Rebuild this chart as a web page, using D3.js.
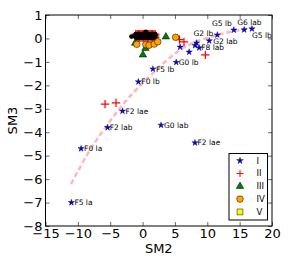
<!DOCTYPE html>
<html>
<head>
<meta charset="utf-8">
<script src="https://cdn.jsdelivr.net/npm/d3@7"></script>
<style>
  body { margin: 0; background: #fff; }
  svg { display: block; font-family: "DejaVu Sans", sans-serif; }
</style>
</head>
<body>
<div id="chart"></div>
<script>
// Class I (stars, labelled)
const starX = [-11.0, -9.5, -5.4, -3.1, -0.65, 1.6, 5.2, 2.85, 8.1, 5.8, 7.2, 8.1, 8.35, 8.75, 10.3, 11.55, 14.1, 15.7, 16.9];
const starY = [-7.0, -4.7, -3.8, -3.1, -1.85, -1.3, -1.02, -3.7, -4.45, -0.37, -0.58, -0.3, -0.19, -0.4, -0.1, 0.15, 0.36, 0.37, 0.41];
const starLabels = ['F5 la', 'F0 la', 'F2 lab', 'F2 lae', 'F0 lb', 'F5 lb', 'G0 lb', 'G0 lab', 'F2 lae',
    '', '', '', '', 'F8 lab', 'G2 lab', 'G2 lb', 'G5 lb', 'G6 lab', 'G5 lb'];

// Class II (plus), outside the dense clump
const plusX = [-5.8, -4.1, 5.7, 6.4, 9.7];
const plusY = [-2.8, -2.75, -0.05, -0.15, -0.7];

// dense clump near the origin (II points overplotted by black field points)
const clumpX = [-1.05, -0.85, -0.65, -0.45, -0.25, -0.05, 0.15, 0.35, 0.55, 0.75, 0.95, 1.15, 1.35, 1.55, 1.75, 1.95];
const clumpY = [0.04, 0.11, 0.18];

// extra black field points outside the clump
const fieldX = [-1.7, 0.5];
const fieldY = [0.08, 0.28];

// Class III (triangles), IV (circles), V (squares)
const triX = [-1.15, 0.45, 0.05, 3.6];
const triY = [-0.2, -0.42, -0.7, 0.07];
const circX = [-0.9, 0.5, 1.0, 1.8, 2.35, 5.1];
const circY = [-0.25, -0.26, -0.29, -0.24, -0.14, 0.05];
const sqX = [];
const sqY = [];

// dashed trend curve
const lineX = [-11.06, -8.12, -5.81, -3.49, -1.17, 1.14, 3.46, 5.78, 8.1, 10.42, 12.74, 15.06, 16.2];
const lineY = [-6.21, -4.76, -3.82, -2.97, -2.24, -1.6, -1.0, -0.49, -0.15, 0.06, 0.23, 0.36, 0.42];

const xTicks = [-15, -10, -5, 0, 5, 10, 15, 20];
const yTicks = [1, 0, -1, -2, -3, -4, -5, -6, -7, -8];
const legendNames = ['I', 'II', 'III', 'IV', 'V'];

// label placement (px) for the annotations
const labelDx = [3, 3, 2, 3, 3, 3, 2.5, 3, 2.5, 0, 0, 0, 0, 2, 4, -4, -2, -7, 0];
const labelDy = [0, 0, 0, 0, 0, 0, 0, 0, 0, 0, 0, 0, 0, 0, 1, -1.6, -6.7, -7, 6.2];
const labelAnchor = i => (i === 15 || i === 16) ? 'end' : 'start';

const width = 288, height = 266;
const M = { left: 45.5, right: 16, top: 15, bottom: 40 };

const svg = d3.select('#chart').append('svg')
    .attr('width', width).attr('height', height);

const x = d3.scaleLinear().domain([-15, 20]).range([M.left, width - M.right]);
const y = d3.scaleLinear().domain([-8, 1]).range([height - M.bottom, M.top]);

const zip = (xs, ys) => xs.map((v, i) => [v, ys[i]]);
const clump = d3.cross(clumpX, clumpY);

const plot = svg.append('g');

// trend line
plot.append('path')
    .datum(zip(lineX, lineY))
    .attr('fill', 'none').attr('stroke', '#ffb6c1').attr('stroke-width', 2.5)
    .attr('stroke-dasharray', '5,3')
    .attr('d', d3.line().x(d => x(d[0])).y(d => y(d[1])).curve(d3.curveMonotoneX));

const plusPath = a => `M${-a},0H${a}M0,${-a}V${a}`;

plot.append('g').selectAll('path').data(zip(plusX, plusY).concat(clump)).join('path')
    .attr('transform', d => `translate(${x(d[0])},${y(d[1])})`)
    .attr('d', plusPath(4.2))
    .attr('fill', 'none').attr('stroke', '#ff0000').attr('stroke-width', 1.2);

plot.append('g').selectAll('circle').data(zip(fieldX, fieldY).concat(clump)).join('circle')
    .attr('cx', d => x(d[0])).attr('cy', d => y(d[1])).attr('r', 2.4)
    .attr('fill', '#000');

plot.append('g').selectAll('path').data(zip(triX, triY)).join('path')
    .attr('transform', d => `translate(${x(d[0])},${y(d[1])})`)
    .attr('d', d3.symbol(d3.symbolTriangle, 24))
    .attr('fill', '#008000').attr('stroke', '#000').attr('stroke-width', 0.5);

plot.append('g').selectAll('circle').data(zip(circX, circY)).join('circle')
    .attr('cx', d => x(d[0])).attr('cy', d => y(d[1])).attr('r', 3.3)
    .attr('fill', '#ffa500').attr('stroke', '#000').attr('stroke-width', 0.5);

plot.append('g').selectAll('path').data(zip(sqX, sqY)).join('path')
    .attr('transform', d => `translate(${x(d[0])},${y(d[1])})`)
    .attr('d', d3.symbol(d3.symbolSquare, 36))
    .attr('fill', '#ffff00').attr('stroke', '#000').attr('stroke-width', 0.5);

const stars = starX.map((v, i) => ({ x: v, y: starY[i], label: starLabels[i], i }));
plot.append('g').selectAll('path').data(stars).join('path')
    .attr('transform', d => `translate(${x(d.x)},${y(d.y)})`)
    .attr('d', d3.symbol(d3.symbolStar, 12))
    .attr('fill', '#0000ff').attr('stroke', '#000022').attr('stroke-width', 0.4);

plot.append('g').selectAll('text').data(stars.filter(d => d.label)).join('text')
    .attr('x', d => x(d.x) + labelDx[d.i]).attr('y', d => y(d.y) + labelDy[d.i])
    .attr('dy', '0.35em').attr('text-anchor', d => labelAnchor(d.i))
    .attr('font-size', 7.5).attr('fill', '#000')
    .text(d => d.label);

// axes: ticks inward on all four sides
const fmt = d3.format('d');
const styleAxis = sel => {
    sel.select('.domain').remove();
    sel.selectAll('line').attr('stroke', '#000').attr('stroke-width', 0.6);
    sel.selectAll('text').attr('font-size', 13).attr('fill', '#000')
        .attr('font-family', '"DejaVu Sans", sans-serif');
};
svg.append('g').attr('transform', `translate(0,${y(-8)})`)
    .call(d3.axisBottom(x).tickValues(xTicks).tickFormat(fmt).tickSizeInner(-4).tickSizeOuter(0).tickPadding(3))
    .call(styleAxis);
svg.append('g').attr('transform', `translate(0,${y(1)})`)
    .call(d3.axisTop(x).tickValues(xTicks).tickFormat('').tickSizeInner(-4).tickSizeOuter(0))
    .call(styleAxis);
svg.append('g').attr('transform', `translate(${x(-15)},0)`)
    .call(d3.axisLeft(y).tickValues(yTicks).tickFormat(fmt).tickSizeInner(-4).tickSizeOuter(0).tickPadding(3))
    .call(styleAxis);
svg.append('g').attr('transform', `translate(${x(20)},0)`)
    .call(d3.axisRight(y).tickValues(yTicks).tickFormat('').tickSizeInner(-4).tickSizeOuter(0))
    .call(styleAxis);

// frame
svg.append('rect')
    .attr('x', x(-15)).attr('y', y(1))
    .attr('width', x(20) - x(-15)).attr('height', y(-8) - y(1))
    .attr('fill', 'none').attr('stroke', '#000').attr('stroke-width', 1);

// axis titles
svg.append('text')
    .attr('x', (x(-15) + x(20)) / 2).attr('y', 253)
    .attr('text-anchor', 'middle').attr('font-size', 13).text('SM2');
svg.append('text')
    .attr('transform', `translate(17,${(y(1) + y(-8)) / 2}) rotate(-90)`)
    .attr('text-anchor', 'middle').attr('font-size', 13).text('SM3');

// legend
const lg = svg.append('g').attr('transform', 'translate(229,153.5)');
lg.append('rect').attr('width', 38.5).attr('height', 66.5)
    .attr('fill', '#fff').attr('stroke', '#000').attr('stroke-width', 1);
const rowY = i => 7.2 + i * 12.8;
const legendMarks = [
    g => g.append('path').attr('d', d3.symbol(d3.symbolStar, 14)).attr('fill', '#0000ff').attr('stroke', '#000022').attr('stroke-width', 0.4),
    g => g.append('path').attr('d', plusPath(3.5)).attr('fill', 'none').attr('stroke', '#ff0000').attr('stroke-width', 1),
    g => g.append('path').attr('d', d3.symbol(d3.symbolTriangle, 24)).attr('fill', '#008000').attr('stroke', '#000').attr('stroke-width', 0.5),
    g => g.append('circle').attr('r', 3.3).attr('fill', '#ffa500').attr('stroke', '#000').attr('stroke-width', 0.5),
    g => g.append('path').attr('d', d3.symbol(d3.symbolSquare, 34)).attr('fill', '#ffff00').attr('stroke', '#000').attr('stroke-width', 0.5)
];
legendNames.forEach((name, i) => {
    const row = lg.append('g').attr('transform', `translate(11,${rowY(i)})`);
    legendMarks[i](row);
    lg.append('text').attr('x', 27.5).attr('y', rowY(i)).attr('dy', '0.35em')
        .attr('font-size', 8.5).text(name);
});
</script>
</body>
</html>
